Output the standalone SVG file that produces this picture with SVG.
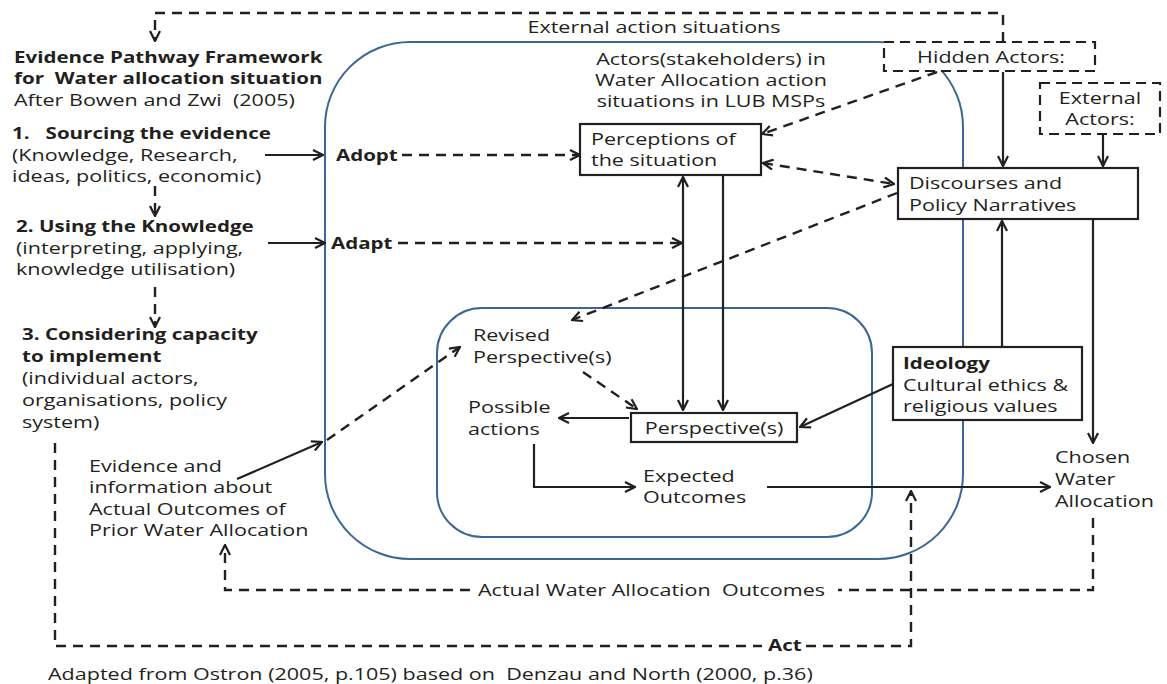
<svg xmlns="http://www.w3.org/2000/svg" width="1167" height="684" viewBox="0 0 1167 684">
  <style>
    text { font-family: "Open Sans", "Liberation Sans", sans-serif; font-size: 15.5px; fill: #231f20; dominant-baseline: central; white-space: pre;
           transform-box: fill-box; transform-origin: 0 50%; transform: scaleX(1.39); }
    text.b { font-weight: bold; transform: scaleX(1.325); }
    text.mid { text-anchor: middle; transform-origin: 50% 50%; }
    .frame { fill: none; stroke: #3b6696; stroke-width: 2; }
    .box { fill: #fff; stroke: #231f20; stroke-width: 2.2; }
    .dbox { fill: #fff; stroke: #231f20; stroke-width: 2.2; stroke-dasharray: 10 6; }
    .s { fill: none; stroke: #231f20; stroke-width: 2.2; marker-end: url(#ah); }
    .d { fill: none; stroke: #231f20; stroke-width: 2.4; stroke-dasharray: 10 7; marker-end: url(#ah); }
    .dn { fill: none; stroke: #231f20; stroke-width: 2.4; stroke-dasharray: 10 7; }
    .two { marker-start: url(#ah); }
  </style>
  <defs>
    <marker id="ah" viewBox="0 0 12 12" refX="11" refY="6" markerWidth="12" markerHeight="12" markerUnits="userSpaceOnUse" orient="auto-start-reverse">
      <path d="M1,1 L11,6 L1,11" fill="none" stroke="#231f20" stroke-width="2.2" stroke-dasharray="none"/>
    </marker>
  </defs>

  <rect width="1167" height="684" fill="#fff"/>

  <!-- action situation frames -->
  <g id="frames">
    <rect id="outer-frame" class="frame" x="325" y="42" width="638" height="517" rx="85" ry="85"/>
    <rect id="inner-frame" class="frame" x="437" y="308" width="435" height="229" rx="45" ry="45"/>
  </g>

  <!-- connectors -->
  <g id="connectors">
    <!-- external action situations loop -->
    <path class="d" d="M1003,42 L1003,13 L155,13 L155,41"/>
    <!-- evidence pathway steps -->
    <path class="d" d="M155,186 L155,216"/>
    <path class="d" d="M155,287 L155,327"/>
    <path class="s" d="M265,155 L323,155"/>
    <path class="s" d="M268,243 L325,243"/>
    <path class="d" d="M402,155 L580,155"/>
    <path class="d" d="M398,243 L682,243"/>
    <!-- actors to perceptions and discourses -->
    <path class="d" d="M937,72 L762,134"/>
    <path class="d two" d="M763,163 L894,184"/>
    <path class="s" d="M1003,72 L1003,166"/>
    <path class="s" d="M1103,134 L1103,166"/>
    <path class="d" d="M897,193 L572,320"/>
    <!-- perceptions to perspectives -->
    <path class="s two" d="M683,177 L683,410"/>
    <path class="s" d="M723,175 L723,410"/>
    <!-- ideology -->
    <path class="s" d="M1002,347 L1002,221"/>
    <path class="s" d="M893,384 L800,427"/>
    <path class="s" d="M1093,220 L1093,443"/>
    <!-- inner loop -->
    <path class="d" d="M583,372 L637,409"/>
    <path class="s" d="M629,418 L559,418"/>
    <path class="s" d="M534,444 L534,487 L635,487"/>
    <path class="s" d="M767,487 L1050,487"/>
    <!-- evidence feedback -->
    <path class="s" d="M237,479 L322,442"/>
    <path class="d" d="M327,440 L460,347"/>
    <path class="dn" d="M1093,518 L1093,590 L838,590"/>
    <path class="d" d="M470,590 L225,590 L225,545"/>
    <path class="dn" d="M55,443 L55,646 L762,646"/>
    <path class="d" d="M806,646 L911,646 L911,491"/>
  </g>

  <!-- left column: evidence pathway -->
  <g id="pathway-title">
    <text class="b" x="14" y="57">Evidence Pathway Framework</text>
    <text class="b" x="14" y="78">for  Water allocation situation</text>
    <text x="14" y="100">After Bowen and Zwi  (2005)</text>
  </g>
  <g id="step-1">
    <text class="b" x="12" y="133">1.   Sourcing the evidence</text>
    <text x="12" y="155">(Knowledge, Research,</text>
    <text x="12" y="176">ideas, politics, economic)</text>
  </g>
  <g id="step-2">
    <text class="b" x="16" y="226">2. Using the Knowledge</text>
    <text x="16" y="248">(interpreting, applying,</text>
    <text x="16" y="269">knowledge utilisation)</text>
  </g>
  <g id="step-3">
    <text class="b" x="22" y="334">3. Considering capacity</text>
    <text class="b" x="22" y="356">to implement</text>
    <text x="22" y="378">(individual actors,</text>
    <text x="22" y="400">organisations, policy</text>
    <text x="22" y="422">system)</text>
  </g>
  <g id="evidence-info">
    <text x="89" y="466">Evidence and</text>
    <text x="89" y="487">information about</text>
    <text x="89" y="509">Actual Outcomes of</text>
    <text x="89" y="530">Prior Water Allocation</text>
  </g>

  <g id="labels">
    <text class="mid" x="654" y="27">External action situations</text>
    <text class="b" x="336" y="155">Adopt</text>
    <text class="b" x="331" y="243">Adapt</text>
    <text class="mid" x="711" y="59">Actors(stakeholders) in</text>
    <text class="mid" x="711" y="80">Water Allocation action</text>
    <text class="mid" x="711" y="101">situations in LUB MSPs</text>
  </g>

  <g id="hidden-actors">
    <rect class="dbox" x="884" y="42" width="211" height="29"/>
    <text class="mid" x="991" y="57">Hidden Actors:</text>
  </g>
  <g id="external-actors">
    <rect class="dbox" x="1040" y="83" width="120" height="51"/>
    <text class="mid" x="1100" y="98">External</text>
    <text class="mid" x="1100" y="119">Actors:</text>
  </g>
  <g id="perceptions">
    <rect class="box" x="580" y="124" width="181" height="51"/>
    <text x="591" y="139">Perceptions of</text>
    <text x="591" y="160">the situation</text>
  </g>
  <g id="discourses">
    <rect class="box" x="898" y="168" width="240" height="51"/>
    <text x="909" y="183">Discourses and</text>
    <text x="909" y="205">Policy Narratives</text>
  </g>
  <g id="ideology">
    <rect class="box" x="893" y="347" width="189" height="73"/>
    <text class="b" x="903" y="363">Ideology</text>
    <text x="903" y="385">Cultural ethics &amp;</text>
    <text x="903" y="406">religious values</text>
  </g>
  <g id="perspectives">
    <rect class="box" x="631" y="413" width="166" height="29"/>
    <text class="mid" x="714" y="428">Perspective(s)</text>
  </g>
  <g id="revised-perspectives">
    <text x="473" y="335">Revised</text>
    <text x="473" y="357">Perspective(s)</text>
  </g>
  <g id="possible-actions">
    <text x="468" y="407">Possible</text>
    <text x="468" y="429">actions</text>
  </g>
  <g id="expected-outcomes">
    <text x="643" y="476">Expected</text>
    <text x="643" y="497">Outcomes</text>
  </g>
  <g id="chosen-allocation">
    <text x="1055" y="457">Chosen</text>
    <text x="1055" y="479">Water</text>
    <text x="1055" y="501">Allocation</text>
  </g>
  <g id="outcome-labels">
    <text x="478" y="590">Actual Water Allocation  Outcomes</text>
    <text class="b" x="768" y="645">Act</text>
  </g>
  <text id="source-note" x="48" y="674">Adapted from Ostron (2005, p.105) based on  Denzau and North (2000, p.36)</text>
</svg>
